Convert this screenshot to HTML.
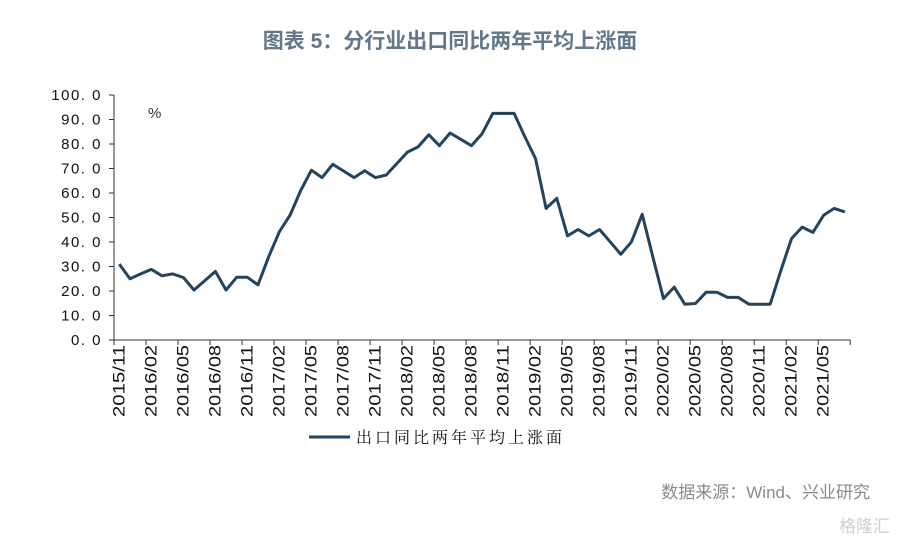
<!DOCTYPE html>
<html><head><meta charset="utf-8"><style>
body{margin:0;background:#fff;}
svg text{font-family:"Liberation Sans","Noto Sans CJK SC",sans-serif;}
</style></head><body>
<svg id="chart" width="900" height="543" viewBox="0 0 900 543" xmlns="http://www.w3.org/2000/svg">
<text x="450" y="48" text-anchor="middle" font-size="21" font-weight="bold" fill="#627789">图表 5：分行业出口同比两年平均上涨面</text>
<text x="148" y="118" font-size="15" fill="#333">%</text>
<g id="axes"></g>
<path id="series" fill="none" stroke="#24445e" stroke-width="3" stroke-linejoin="round"/>
<line x1="309" y1="437" x2="350" y2="437" stroke="#24445e" stroke-width="3"/>
<text x="356" y="443" font-size="16" fill="#111" style="font-family:'Liberation Serif','Noto Serif CJK SC',serif;letter-spacing:3px">出口同比两年平均上涨面</text>
<text x="870" y="498" text-anchor="end" font-size="17" fill="#8a8a8a">数据来源：Wind、兴业研究</text>
<text x="890" y="532" text-anchor="end" font-size="17" fill="#cfcfcf">格隆汇</text>
</svg>
<script>
const values=[31,25,27,28.8,26.2,27,25.5,20.4,24.2,28,20.4,25.6,25.6,22.5,34,44.2,51,61,69.3,66.3,71.7,69,66.3,69.1,66.3,67.3,72,76.7,78.8,83.8,79.3,84.5,81.9,79.3,84.2,92.5,92.5,92.5,83,74.1,53.7,57.8,42.5,45.1,42.5,45.1,40.1,35,40.1,51.3,34,16.9,21.6,14.6,14.9,19.5,19.5,17.4,17.4,14.6,14.6,14.6,28.4,41.4,46.1,43.9,50.9,53.7,52.3];
const startYear=2015,startMonth=11;
const yTicks=[0,10,20,30,40,50,60,70,80,90,100];
const NS="http://www.w3.org/2000/svg";
const left=114,band=10.67,y0=340,yScale=2.45;
const xs=i=>left+band*(i+0.5);
const ys=v=>y0-v*yScale;
const axes=document.getElementById('axes');
function mk(tag,attrs){const e=document.createElementNS(NS,tag);for(const k in attrs)e.setAttribute(k,attrs[k]);axes.appendChild(e);return e;}
const right=left+band*values.length;
const ya=mk('line',{x1:left,y1:ys(100),x2:left,y2:y0,stroke:'#333','stroke-width':1});


const xa=mk('line',{x1:left,y1:y0,x2:right,y2:y0,stroke:'#333','stroke-width':1});


yTicks.forEach(t=>{
 const tk=mk('line',{x1:left-5,y1:ys(t),x2:left,y2:ys(t),stroke:'#333'});
 
 
 const tx=mk('text',{x:102,y:ys(t)+5,'text-anchor':'end','font-size':15,fill:'#111','letter-spacing':'1.5'});
 
 
 tx.textContent=t.toFixed(1).replace('.','. ');
});
for(let i=0;i<=values.length;i+=3){
 const x=left+band*i;
 const tk=mk('line',{x1:x,y1:y0,x2:x,y2:y0+5,stroke:'#333'});
 
 
 if(i<values.length){
  const m=startMonth-1+i;const yr=startYear+Math.floor(m/12);const mo=m%12+1;
  const cx=xs(i)+5;
  const tx=mk('text',{x:0,y:0,'text-anchor':'end','font-size':17,fill:'#111',transform:`translate(${cx},345) rotate(-90)`,'textLength':72,'lengthAdjust':'spacingAndGlyphs'});
  
  
  tx.textContent=yr+'/'+String(mo).padStart(2,'0');
 }
}
document.getElementById('series').setAttribute('d',values.map((v,i)=>(i?'L':'M')+xs(i).toFixed(1)+' '+ys(v).toFixed(1)).join(' '));
</script>
</body></html>
